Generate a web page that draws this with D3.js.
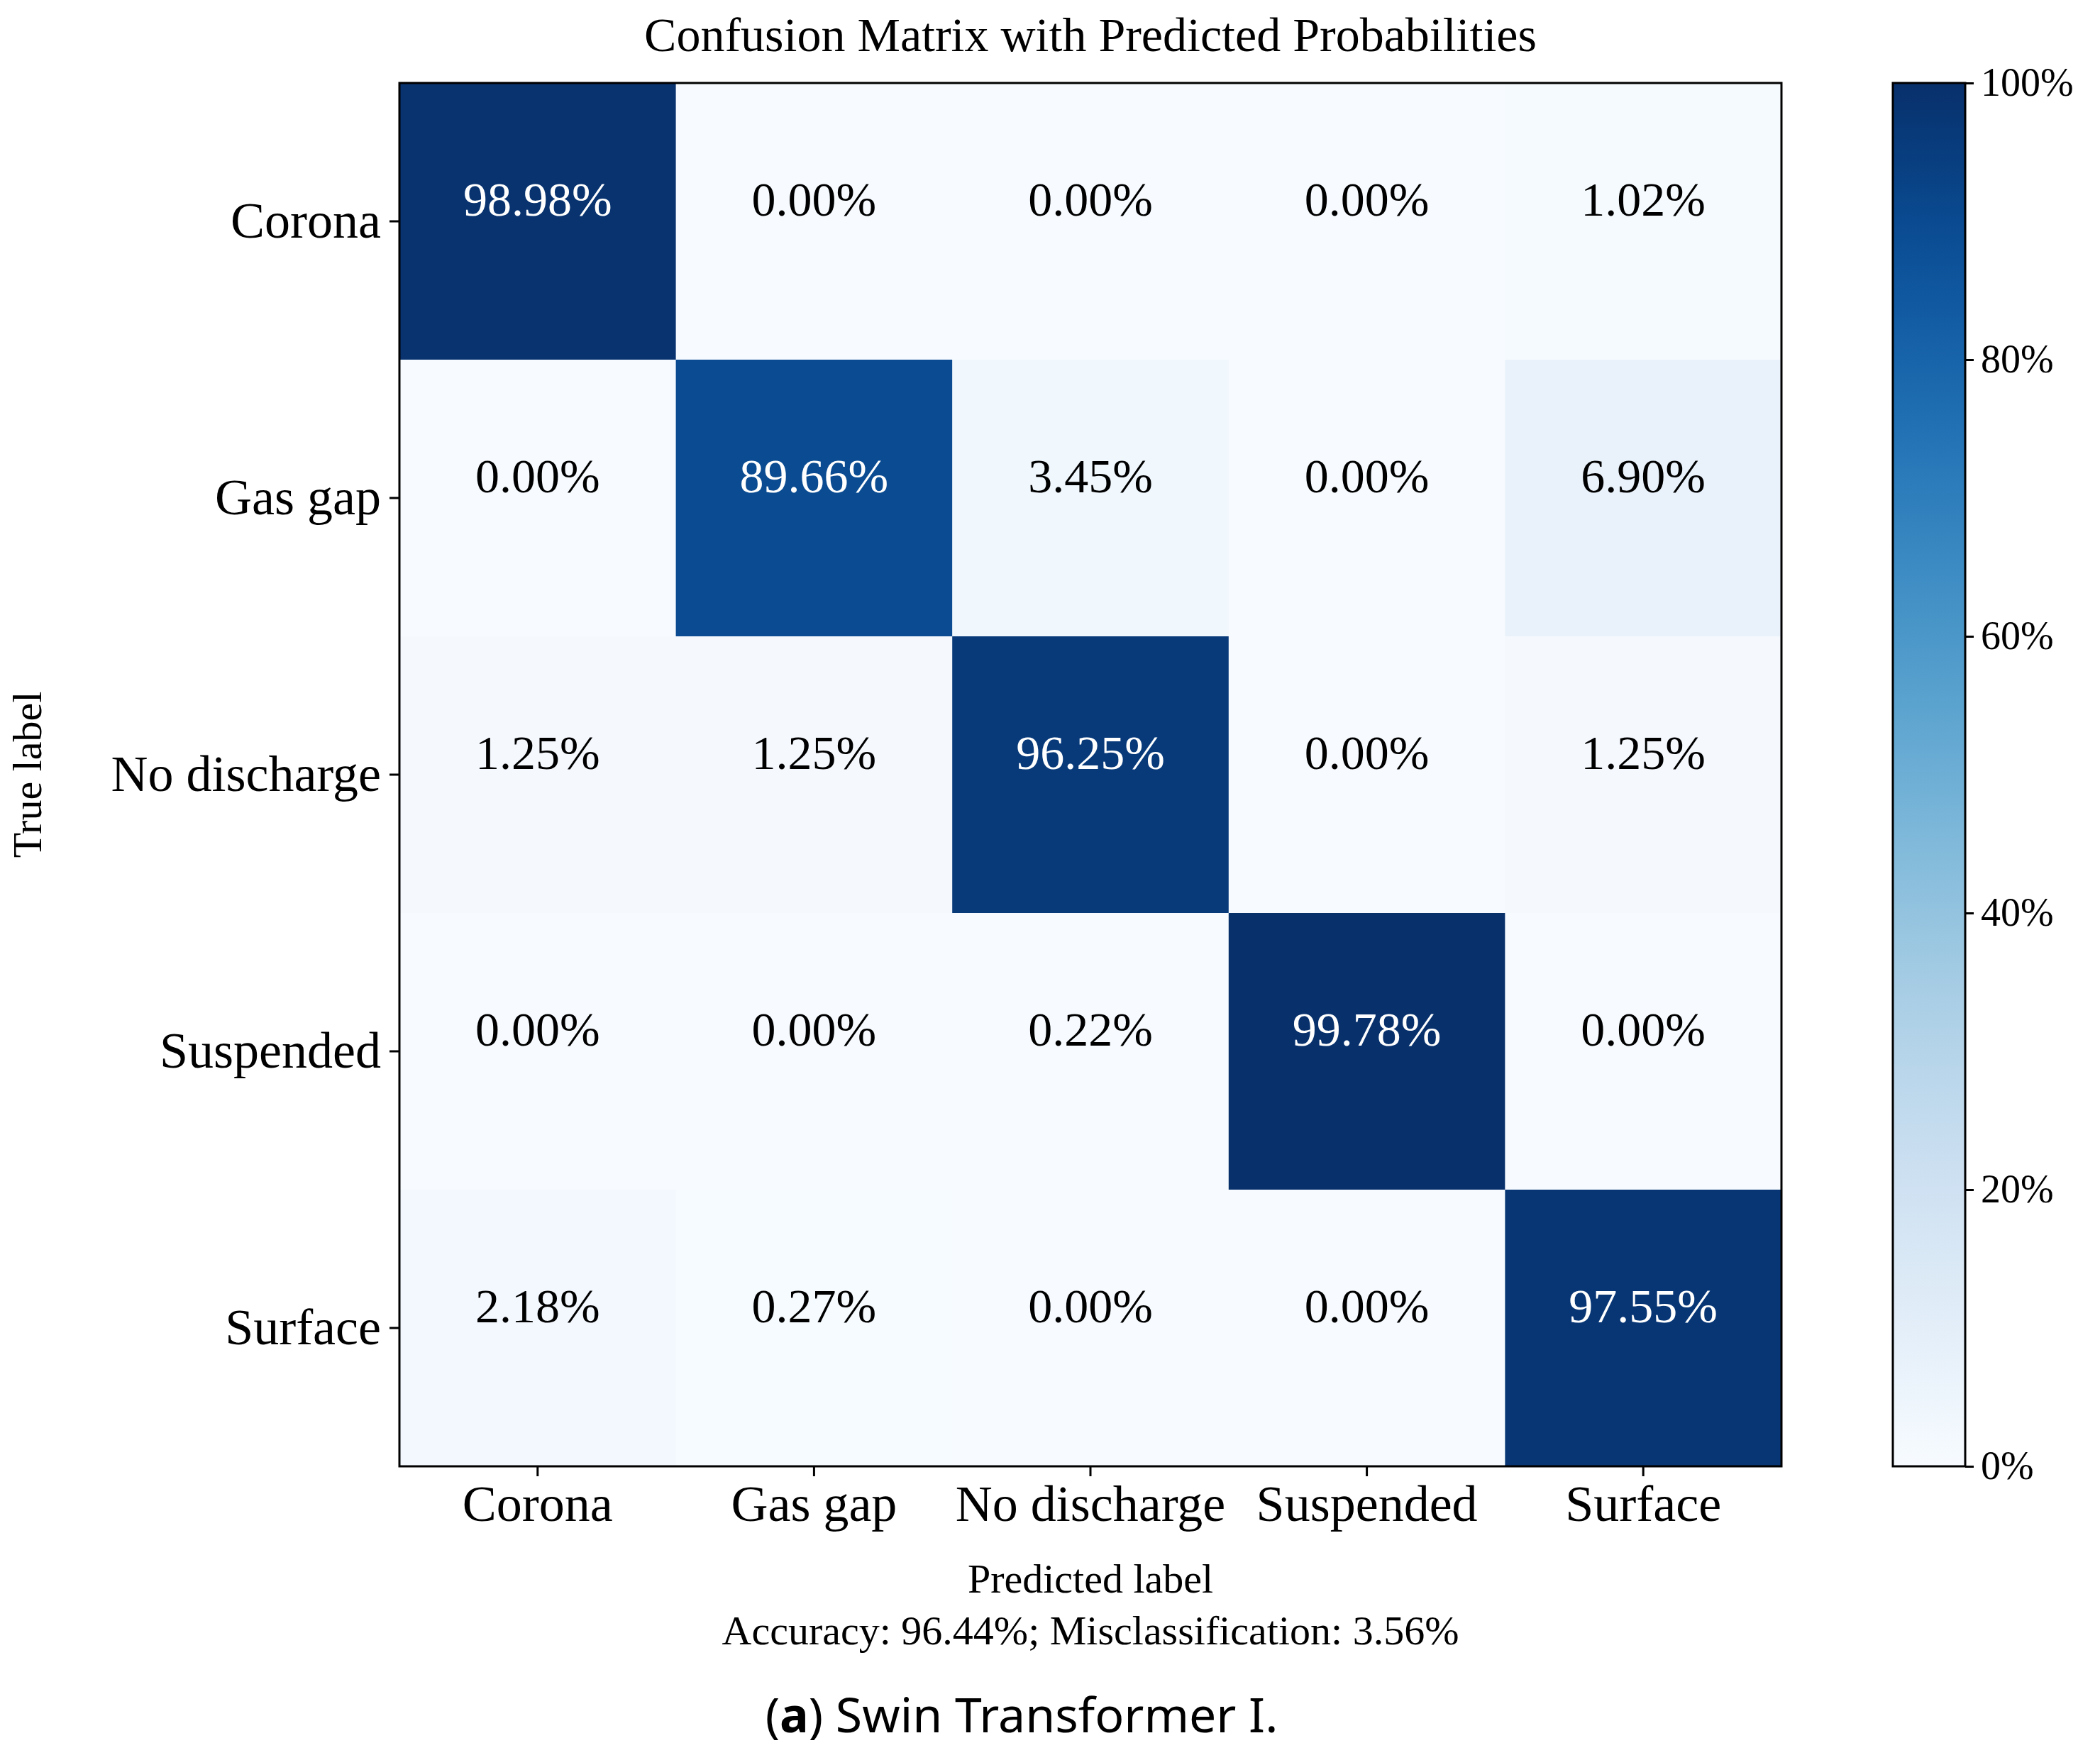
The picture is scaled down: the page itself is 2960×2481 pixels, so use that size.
<!DOCTYPE html>
<html><head><meta charset="utf-8">
<script src="https://cdn.jsdelivr.net/npm/d3@7"></script>
<style>body{margin:0;background:#fff}</style>
</head><body><svg id="cm"></svg>
<script>
const labels = ["Corona", "Gas gap", "No discharge", "Suspended", "Surface"];
const matrix = [
  [98.98, 0.00, 0.00, 0.00, 1.02],
  [0.00, 89.66, 3.45, 0.00, 6.90],
  [1.25, 1.25, 96.25, 0.00, 1.25],
  [0.00, 0.00, 0.22, 99.78, 0.00],
  [2.18, 0.27, 0.00, 0.00, 97.55]
];
const cbTicks = [0, 20, 40, 60, 80, 100];

const W = 2960, H = 2481;
const svg = d3.select("#cm").attr("width", W).attr("height", H)
  .style("font-family", "'Liberation Serif', serif");

const pL = 563, pR = 2511, pT = 117, pB = 2067;
const x = d3.scaleBand().domain(labels).range([pL, pR]);
const y = d3.scaleBand().domain(labels).range([pT, pB]);
const color = v => d3.interpolateBlues(v / 100);

const cells = [];
matrix.forEach((row, i) => row.forEach((v, j) => cells.push({ r: labels[i], c: labels[j], v })));

svg.selectAll(".cell").data(cells).enter().append("rect")
  .attr("x", d => x(d.c)).attr("y", d => y(d.r))
  .attr("width", x.bandwidth() + 0.5).attr("height", y.bandwidth() + 0.5)
  .attr("fill", d => color(d.v));

svg.selectAll(".val").data(cells).enter().append("text")
  .attr("x", d => x(d.c) + x.bandwidth() / 2)
  .attr("y", d => y(d.r) + y.bandwidth() * 0.44)
  .attr("text-anchor", "middle").attr("dominant-baseline", "middle")
  .attr("font-size", 68)
  .attr("fill", d => d.v > 50 ? "#fff" : "#000")
  .text(d => d.v.toFixed(2) + "%");

svg.append("rect").attr("x", pL).attr("y", pT)
  .attr("width", pR - pL).attr("height", pB - pT)
  .attr("fill", "none").attr("stroke", "#000").attr("stroke-width", 3);

const xAxis = svg.append("g").attr("transform", `translate(0,${pB})`)
  .call(d3.axisBottom(x).tickSize(14).tickPadding(12));
const yAxis = svg.append("g").attr("transform", `translate(${pL},0)`)
  .call(d3.axisLeft(y).tickSize(14).tickPadding(12));
[xAxis, yAxis].forEach(a => {
  a.select(".domain").remove();
  a.selectAll("line").attr("stroke-width", 3);
  a.selectAll("text").attr("font-size", 72).attr("font-family", "'Liberation Serif', serif");
});

svg.append("text").attr("x", (pL + pR) / 2).attr("y", 72)
  .attr("text-anchor", "middle").attr("font-size", 68)
  .text("Confusion Matrix with Predicted Probabilities");
svg.append("text").attr("x", (pL + pR) / 2).attr("y", 2245)
  .attr("text-anchor", "middle").attr("font-size", 58).text("Predicted label");
svg.append("text").attr("x", (pL + pR) / 2).attr("y", 2318)
  .attr("text-anchor", "middle").attr("font-size", 58)
  .text("Accuracy: 96.44%; Misclassification: 3.56%");
svg.append("text").attr("transform", `translate(58,${(pT + pB) / 2}) rotate(-90)`)
  .attr("text-anchor", "middle").attr("font-size", 58).text("True label");

const cap = svg.append("text").attr("x", W / 2 - 40).attr("y", 2442)
  .attr("text-anchor", "middle").attr("font-size", 68).attr("font-family", "'Noto Sans', sans-serif");
cap.append("tspan").text("(");
cap.append("tspan").attr("font-weight", "bold").text("a");
cap.append("tspan").text(") Swin Transformer I.");

// colorbar
const cbL = 2668, cbW = 102;
const cy = d3.scaleLinear().domain([0, 100]).range([pB, pT]);
const grad = svg.append("defs").append("linearGradient").attr("id", "cbg")
  .attr("x1", 0).attr("y1", 1).attr("x2", 0).attr("y2", 0);
d3.range(0, 101, 5).forEach(t => grad.append("stop").attr("offset", t + "%").attr("stop-color", color(t)));
svg.append("rect").attr("x", cbL).attr("y", pT).attr("width", cbW).attr("height", pB - pT)
  .attr("fill", "url(#cbg)").attr("stroke", "#000").attr("stroke-width", 3);
const cAxis = svg.append("g").attr("transform", `translate(${cbL + cbW},0)`)
  .call(d3.axisRight(cy).tickValues(cbTicks).tickFormat(d => d + "%").tickSize(12).tickPadding(10));
cAxis.select(".domain").remove();
cAxis.selectAll("line").attr("stroke-width", 3);
cAxis.selectAll("text").attr("font-size", 56).attr("font-family", "'Liberation Serif', serif");
</script></body></html>
